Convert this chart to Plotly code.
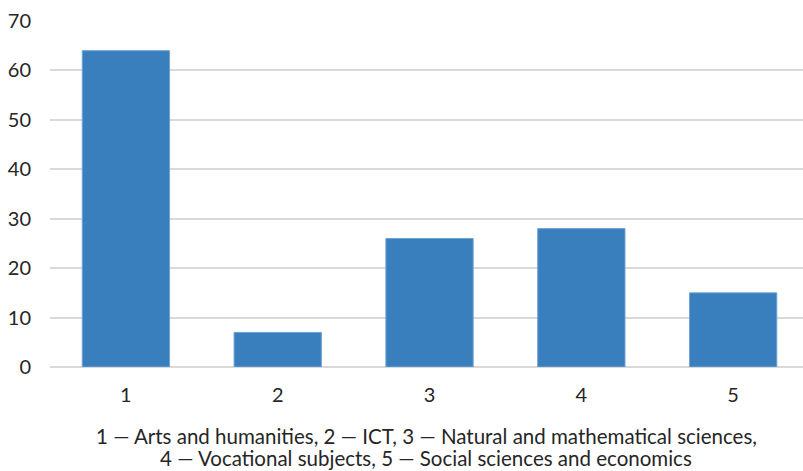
import plotly.graph_objects as go

# Field of study codes and counts
categories = ["1", "2", "3", "4", "5"]
counts = [64, 7, 26, 28, 15]
y_ticks = [0, 10, 20, 30, 40, 50, 60, 70]
caption_lines = [
    "1 — Arts and humanities, 2 — ICT, 3 — Natural and mathematical sciences,",
    "4 — Vocational subjects, 5 — Social sciences and economics",
]

FONT = "Lato, 'Open Sans', sans-serif"
TEXT = "#262626"
PLOT_TOP, PLOT_BOTTOM = 21, 367  # pixel rows of the plot area

fig = go.Figure(
    go.Bar(
        x=[int(c) for c in categories],
        y=counts,
        width=0.575,
        marker=dict(color="#3A7FBD", line=dict(color="#6EA3D6", width=1)),
        hoverinfo="skip",
    )
)

fig.update_layout(
    width=803,
    height=471,
    margin=dict(l=50, r=0, t=PLOT_TOP, b=471 - PLOT_BOTTOM),
    plot_bgcolor="white",
    paper_bgcolor="white",
    showlegend=False,
    font=dict(family=FONT, size=20, color=TEXT),
)

fig.update_xaxes(
    range=[0.5, 5.46],
    tickvals=[int(c) for c in categories],
    ticktext=categories,
    showgrid=False,
    zeroline=False,
    showline=False,
    ticks="",
    ticklabelstandoff=14,
    tickfont=dict(family=FONT, size=20, color=TEXT),
)

fig.update_yaxes(
    range=[0, 70],
    tickvals=y_ticks,
    showgrid=True,
    gridcolor="#D9D9D9",
    gridwidth=1.6,
    zeroline=True,
    zerolinecolor="#D9D9D9",
    zerolinewidth=1.6,
    showline=False,
    ticks="",
    ticklabelstandoff=18,
    tickfont=dict(family=FONT, size=20, color=TEXT),
)

# Two-line caption under the axis
plot_h = PLOT_BOTTOM - PLOT_TOP
for line, row in zip(caption_lines, [436, 458]):
    fig.add_annotation(
        text=line,
        xref="paper",
        yref="paper",
        x=(426 - 50) / 753,
        y=(PLOT_BOTTOM - row) / plot_h,
        xanchor="center",
        yanchor="middle",
        showarrow=False,
        font=dict(family=FONT, size=20.5, color=TEXT),
    )

fig.write_html("out.html")
